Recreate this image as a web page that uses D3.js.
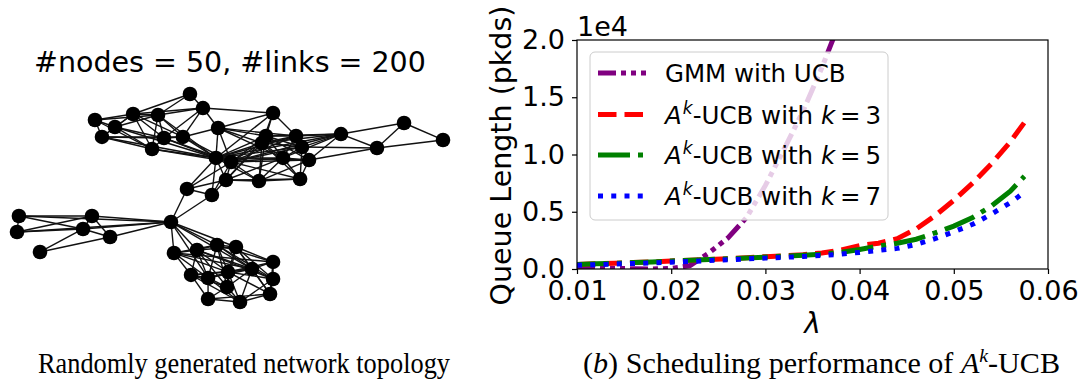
<!DOCTYPE html>
<html lang="en">
<head>
<meta charset="UTF-8">
<title>Topology and scheduling performance</title>
<style>
  body { margin: 0; background: #fff; }
  svg text { fill: #000; }
  .dv { font-family: "DejaVu Sans", sans-serif; }
  .cap { font-family: "Liberation Serif", serif; }
</style>
</head>
<body>
<svg id="fig" width="1086" height="383"></svg>
<script src="https://d3js.org/d3.v7.min.js"></script>
<script>
// ---- left panel: network layout (layout units, x and y in [-1, 1]) ----
const nodeX = [-0.188, -0.127, -0.634, -0.455, -0.338, -0.540, -0.601, -0.366, -0.310, -0.221,
               -0.056, 0.202, 0.169, 0.150, 0.310, 0.338, 0.371, 0.249, 0.521, 0.817,
               1.000, 0.690, -0.066, 0.005, -0.019, 0.136, 0.329, -0.202, -0.085, -0.277,
               -0.991, -1.000, -0.648, -0.690, -0.563, -0.892, -0.263, -0.155, -0.061, 0.028,
               0.202, -0.183, -0.103, -0.009, 0.103, 0.202, 0.188, 0.047, -0.103, -0.014];
const nodeY = [1.000, 0.865, 0.750, 0.808, 0.798, 0.683, 0.587, 0.471, 0.577, 0.587,
               0.673, 0.817, 0.596, 0.529, 0.596, 0.490, 0.365, 0.385, 0.615, 0.721,
               0.558, 0.481, 0.385, 0.346, 0.173, 0.163, 0.183, 0.087, 0.029, -0.231,
               -0.173, -0.327, -0.173, -0.298, -0.375, -0.519, -0.529, -0.500, -0.452, -0.471,
               -0.615, -0.740, -0.769, -0.712, -0.683, -0.779, -0.923, -1.000, -0.971, -0.856];
const linkList = (
  "0-1 0-3 0-4 1-3 1-4 1-8 1-9 1-10 1-11 2-3 2-4 2-5 2-6 2-7 3-4 3-5 3-6 3-7 3-8 3-9 " +
  "4-5 4-7 4-8 4-9 4-22 5-6 5-7 5-8 5-22 6-7 6-8 6-9 6-22 7-8 7-22 7-23 8-9 8-22 8-23 " +
  "9-10 9-22 9-23 10-11 10-12 10-13 10-14 10-17 10-22 10-23 " +
  "11-12 11-13 11-14 11-22 12-13 12-14 12-15 12-16 12-17 12-18 12-22 12-23 12-24 12-25 " +
  "13-14 13-15 13-17 13-18 13-22 13-23 13-24 13-25 13-26 14-15 14-16 14-17 14-18 14-22 14-23 " +
  "15-16 15-17 15-18 15-21 15-22 15-23 15-26 16-17 16-18 16-21 16-22 16-23 16-25 16-26 " +
  "17-18 17-22 17-23 17-24 17-25 17-26 18-19 18-21 18-22 18-23 19-20 19-21 20-21 " +
  "22-23 22-24 22-25 22-27 22-28 23-24 23-25 23-26 23-27 23-28 24-25 24-26 24-27 24-28 " +
  "25-26 27-28 27-29 28-29 " +
  "29-30 29-31 29-32 29-33 29-34 30-31 30-32 30-33 31-32 31-33 32-33 32-34 33-34 33-35 34-35 " +
  "29-36 29-37 29-38 29-39 29-42 29-44 36-37 36-38 36-40 36-41 36-42 36-43 36-44 " +
  "37-38 37-39 37-41 37-42 37-43 37-44 37-45 37-49 38-39 38-40 38-42 38-43 38-44 38-45 38-49 " +
  "39-40 39-43 39-44 39-45 39-46 39-49 40-43 40-44 40-45 40-46 41-42 41-43 41-44 41-47 41-48 41-49 " +
  "42-43 42-44 42-47 42-48 42-49 43-44 43-45 43-46 43-47 43-49 44-45 44-46 44-47 44-49 " +
  "45-46 45-47 46-47 46-48 47-48 47-49 48-49"
).split(" ").map(s => s.split("-").map(Number));

// ---- right panel: queue length vs arrival rate ----
const gmmLambda = [0.010, 0.012, 0.014, 0.016, 0.018, 0.020, 0.022, 0.024, 0.026, 0.028,
                   0.030, 0.032, 0.034, 0.036, 0.038];
const gmmQueue = [150, 100, 50, 20, 0, 50, 300, 1400, 2700, 4500,
                  7300, 10500, 13800, 17600, 21800];
const akLambda = [0.010, 0.012, 0.014, 0.016, 0.018, 0.020, 0.022, 0.024, 0.026, 0.028,
                  0.030, 0.032, 0.034, 0.036, 0.038, 0.040, 0.042, 0.044, 0.046, 0.048,
                  0.050, 0.052, 0.054, 0.056, 0.0575];
const ak3Queue = [400, 450, 500, 560, 620, 700, 760, 830, 900, 980,
                  1080, 1160, 1250, 1400, 1650, 2050, 2250, 2650, 3500, 4650,
                  6000, 7500, 9200, 11100, 12800];
const ak5Queue = [400, 450, 500, 560, 620, 700, 760, 830, 900, 960,
                  1040, 1120, 1200, 1300, 1450, 1700, 2000, 2250, 2600, 3150,
                  3750, 4500, 5500, 6800, 8100];
const ak7Queue = [330, 380, 430, 480, 540, 600, 660, 740, 810, 880,
                  950, 1020, 1090, 1180, 1300, 1450, 1620, 1800, 2150, 2650,
                  3250, 3900, 4800, 5800, 6700];
const xTicks = [0.01, 0.02, 0.03, 0.04, 0.05, 0.06];
const yTicks = [0, 5000, 10000, 15000, 20000];

const svg = d3.select("#fig");

// ================= left: graph =================
const gx = d3.scaleLinear().domain([-1, 1]).range([17, 443]);
const gy = d3.scaleLinear().domain([-1, 1]).range([302, 94]);

svg.append("text").attr("class", "dv")
  .attr("x", 230).attr("y", 72)
  .attr("text-anchor", "middle")
  .style("font-size", "28.5px")
  .text("#nodes = 50, #links = 200");

svg.append("g").selectAll("line")
  .data(linkList).join("line")
  .attr("x1", d => gx(nodeX[d[0]])).attr("y1", d => gy(nodeY[d[0]]))
  .attr("x2", d => gx(nodeX[d[1]])).attr("y2", d => gy(nodeY[d[1]]))
  .attr("stroke", "#111").attr("stroke-width", 1.4);

svg.append("g").selectAll("circle")
  .data(nodeX).join("circle")
  .attr("cx", d => gx(d)).attr("cy", (d, i) => gy(nodeY[i]))
  .attr("r", 7.3).attr("fill", "#000");

// ================= right: line chart =================
const pLeft = 577, pRight = 1048, pTop = 40, pBottom = 269;
const x = d3.scaleLinear().domain([0.01, 0.06]).range([pLeft, pRight]);
const y = d3.scaleLinear().domain([0, 20000]).range([pBottom, pTop]);

svg.append("defs").append("clipPath").attr("id", "plotclip")
  .append("rect").attr("x", pLeft).attr("y", pTop)
  .attr("width", pRight - pLeft).attr("height", pBottom - pTop);

const series = [
  { name: "GMM", xs: gmmLambda, ys: gmmQueue, color: "#800080", dash: "18,5,5,5,5,5,5,5" },
  { name: "k3", xs: akLambda, ys: ak3Queue, color: "#ff0000", dash: "18.5,8" },
  { name: "k5", xs: akLambda, ys: ak5Queue, color: "#008000", dash: "32,8,5,8" },
  { name: "k7", xs: akLambda, ys: ak7Queue, color: "#0000ff", dash: "5,8.25" }
];

const line = d3.line().x(d => x(d[0])).y(d => y(d[1]));
const plot = svg.append("g").attr("clip-path", "url(#plotclip)");
series.forEach(s => {
  plot.append("path")
    .attr("d", line(s.xs.map((v, i) => [v, s.ys[i]])))
    .attr("fill", "none")
    .attr("stroke", s.color)
    .attr("stroke-width", 5)
    .attr("stroke-dasharray", s.dash);
});

// axes
const xAxis = svg.append("g").attr("class", "dv")
  .attr("transform", `translate(0,${pBottom})`)
  .call(d3.axisBottom(x).tickValues(xTicks).tickSize(5).tickPadding(7).tickFormat(d3.format(".2f")));
const yAxis = svg.append("g").attr("class", "dv")
  .attr("transform", `translate(${pLeft},0)`)
  .call(d3.axisLeft(y).tickValues(yTicks).tickSize(5).tickPadding(7).tickFormat(d => (d / 1e4).toFixed(1)));
[xAxis, yAxis].forEach(a => {
  a.select(".domain").remove();
  a.selectAll(".tick line").attr("stroke", "#000").attr("stroke-width", 1.2);
  a.selectAll(".tick text").style("font-size", "27px").attr("fill", "#000")
    .style("font-family", "'DejaVu Sans', sans-serif");
});

svg.append("rect")
  .attr("x", pLeft).attr("y", pTop)
  .attr("width", pRight - pLeft).attr("height", pBottom - pTop)
  .attr("fill", "none").attr("stroke", "#000").attr("stroke-width", 1.2);

svg.append("text").attr("class", "dv")
  .attr("x", pLeft).attr("y", 36)
  .style("font-size", "27px")
  .text("1e4");

svg.append("text").attr("class", "dv")
  .attr("transform", `translate(511,${(pTop + pBottom) / 2 + 1}) rotate(-90)`)
  .attr("text-anchor", "middle")
  .style("font-size", "28.5px")
  .text("Queue Length (pkds)");

svg.append("text").attr("class", "dv")
  .attr("x", (pLeft + pRight) / 2).attr("y", 333)
  .attr("text-anchor", "middle")
  .style("font-size", "28px").style("font-style", "italic")
  .text("λ");

// legend
const leg = svg.append("g");
leg.append("rect")
  .attr("x", 590).attr("y", 52).attr("width", 298).attr("height", 168).attr("rx", 5)
  .attr("fill", "#fff").attr("fill-opacity", 0.8)
  .attr("stroke", "#cccccc").attr("stroke-width", 1);

const rowBase = [82, 123.5, 164, 205];
series.forEach((s, i) => {
  leg.append("line")
    .attr("x1", 598).attr("x2", 647)
    .attr("y1", rowBase[i] - 9).attr("y2", rowBase[i] - 9)
    .attr("stroke", s.color).attr("stroke-width", 5)
    .attr("stroke-dasharray", s.dash);
  const t = leg.append("text").attr("class", "dv")
    .attr("x", 665).attr("y", rowBase[i])
    .style("font-size", "24.5px");
  if (i === 0) {
    t.text("GMM with UCB");
  } else {
    t.append("tspan").style("font-style", "italic").text("A");
    t.append("tspan").style("font-style", "italic").style("font-size", "17px")
      .attr("dy", -10).attr("dx", 1).text("k");
    t.append("tspan").attr("dy", 10).text("-UCB with ");
    t.append("tspan").style("font-style", "italic").text("k");
    t.append("tspan").text("\u2009=\u2009" + ["3", "5", "7"][i - 1]);
  }
});

// captions
svg.append("text").attr("class", "cap")
  .attr("x", 38).attr("y", 373)
  .style("font-size", "29px")
  .attr("textLength", 412).attr("lengthAdjust", "spacingAndGlyphs")
  .text("Randomly generated network topology");

const cap2 = svg.append("text").attr("class", "cap")
  .attr("x", 583).attr("y", 373)
  .style("font-size", "29px")
  .attr("textLength", 477).attr("lengthAdjust", "spacingAndGlyphs");
cap2.append("tspan").text("(");
cap2.append("tspan").style("font-style", "italic").text("b");
cap2.append("tspan").text(") Scheduling performance of ");
cap2.append("tspan").style("font-style", "italic").text("A");
cap2.append("tspan").style("font-style", "italic").style("font-size", "19px").attr("dy", -11).text("k");
cap2.append("tspan").attr("dy", 11).text("-UCB");
</script>
</body>
</html>
